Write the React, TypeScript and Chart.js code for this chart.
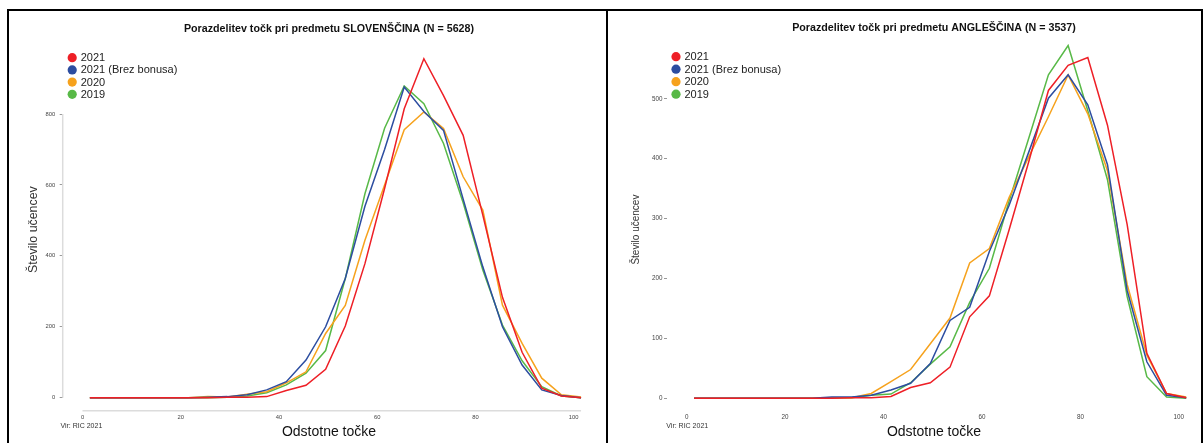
import React, { useEffect, useRef } from 'react';
import { Chart, registerables } from 'chart.js';

Chart.register(...registerables);

const FONT = "'Liberation Sans', Arial, Helvetica, sans-serif";

// ---- shared ----
const X_BINS = [1.5, 5.5, 9.5, 13.5, 17.5, 21.5, 25.5, 29.5, 33.5, 37.5, 41.5, 45.5, 49.5, 53.5, 57.5, 61.5, 65.5, 69.5, 73.5, 77.5, 81.5, 85.5, 89.5, 93.5, 97.5, 101.5];
const X_TICKS = [0, 20, 40, 60, 80, 100];
const SERIES_LABELS = ['2021', '2021 (Brez bonusa)', '2020', '2019'];
const SERIES_COLORS = ['#ee1f26', '#2c4da0', '#f6a21d', '#58b947'];
const X_TITLE = 'Odstotne točke';
const Y_TITLE = 'Število učencev';
const SOURCE = 'Vir: RIC 2021';

// ---- SLOVENŠČINA ----
const SLO_TITLE = 'Porazdelitev točk pri predmetu SLOVENŠČINA (N = 5628)';
const SLO_2021 = [0, 0, 0, 0, 0, 0, 0, 1, 1, 3, 20, 35, 80, 202, 378, 590, 815, 956, 852, 740, 515, 283, 128, 27, 5, 0];
const SLO_2021_NB = [0, 0, 0, 0, 0, 0, 1, 3, 8, 22, 45, 106, 200, 336, 540, 700, 876, 807, 754, 560, 369, 200, 92, 22, 6, 0];
const SLO_2020 = [0, 0, 0, 0, 0, 0, 3, 2, 10, 17, 42, 73, 181, 260, 444, 600, 756, 806, 759, 623, 529, 261, 153, 55, 8, 2];
const SLO_2019 = [0, 0, 0, 0, 0, 0, 0, 1, 5, 14, 36, 69, 133, 336, 575, 760, 879, 829, 717, 550, 360, 205, 104, 31, 5, 0];
const SLO_Y_TICKS = [0, 200, 400, 600, 800];

// ---- ANGLEŠČINA ----
const ANG_TITLE = 'Porazdelitev točk pri predmetu ANGLEŠČINA (N = 3537)';
const ANG_2021 = [0, 0, 0, 0, 0, 0, 0, 0, 1, 1, 3, 18, 26, 52, 136, 171, 281, 395, 514, 556, 569, 456, 290, 75, 8, 1];
const ANG_2021_NB = [0, 0, 0, 0, 0, 0, 0, 2, 2, 5, 14, 25, 58, 130, 152, 245, 322, 411, 501, 540, 490, 390, 180, 61, 5, 1];
const ANG_2020 = [0, 0, 0, 0, 0, 0, 0, 1, 1, 8, 28, 48, 91, 134, 226, 250, 335, 403, 470, 540, 475, 380, 190, 72, 8, 2];
const ANG_2019 = [0, 0, 0, 0, 0, 0, 0, 1, 1, 5, 7, 26, 57, 86, 160, 217, 329, 434, 540, 589, 480, 365, 170, 36, 2, 0];
const ANG_Y_TICKS = [0, 100, 200, 300, 400, 500];

type PanelCfg = {
  title: string;
  series: number[][];
  yTicks: number[];
  yMin: number;
  yMax: number;
  xMin: number;
  xMax: number;
  width: number;
  height: number;
  yAxisWidth: number;
  rightPad: number;
  yTitleSize: number;
  yTitlePad: number;
  yTickPad: number;
  tickSize: number;
  legendX: number;
  legendY: number;
  legendGap: number;
  titleY: number;
  srcX: number;
  axisLines: boolean;
};

const SLO_CFG: PanelCfg = {
  title: SLO_TITLE,
  series: [SLO_2021, SLO_2021_NB, SLO_2020, SLO_2019],
  yTicks: SLO_Y_TICKS,
  yMin: -36.7,
  yMax: 984.8,
  xMin: -4.03,
  xMax: 104.4,
  width: 597,
  height: 432,
  yAxisWidth: 53.7,
  rightPad: 10.7,
  yTitleSize: 12.4,
  yTitlePad: 17.6,
  yTickPad: 4.5,
  tickSize: 5.8,
  legendX: 63.2,
  legendY: 46.7,
  legendGap: 12.2,
  titleY: 18.3,
  srcX: 51.4,
  axisLines: true,
};

const ANG_CFG: PanelCfg = {
  title: ANG_TITLE,
  series: [ANG_2021, ANG_2021_NB, ANG_2020, ANG_2019],
  yTicks: ANG_Y_TICKS,
  yMin: -20.7,
  yMax: 584.0,
  xMin: -4.0,
  xMax: 104.5,
  width: 593,
  height: 432,
  yAxisWidth: 59,
  rightPad: 0,
  yTitleSize: 10,
  yTitlePad: 22,
  yTickPad: 1.5,
  tickSize: 6.3,
  legendX: 68,
  legendY: 45.7,
  legendGap: 12.5,
  titleY: 17.3,
  srcX: 58.3,
  axisLines: false,
};

function makeDecor(cfg: PanelCfg) {
  return {
    id: 'decor',
    beforeDatasetsDraw(chart: any) {
      if (!cfg.axisLines) return;
      const ctx = chart.ctx;
      const xs = chart.scales.x;
      const ys = chart.scales.y;
      const { left, bottom } = chart.chartArea;
      ctx.save();
      ctx.strokeStyle = '#dcdcdc';
      ctx.lineWidth = 1.5;
      ctx.beginPath();
      ctx.moveTo(left, ys.getPixelForValue(cfg.yTicks[cfg.yTicks.length - 1]));
      ctx.lineTo(left, ys.getPixelForValue(cfg.yTicks[0]));
      ctx.stroke();
      ctx.beginPath();
      ctx.moveTo(xs.getPixelForValue(X_TICKS[0]), bottom);
      ctx.lineTo(xs.getPixelForValue(X_BINS[X_BINS.length - 1]), bottom);
      ctx.stroke();
      ctx.restore();
    },
    afterDraw(chart: any) {
      const ctx = chart.ctx;
      const { left, right } = chart.chartArea;
      ctx.save();
      ctx.textBaseline = 'middle';
      // title
      ctx.font = `bold 10.7px ${FONT}`;
      ctx.fillStyle = '#111';
      ctx.textAlign = 'center';
      ctx.fillText(cfg.title, (left + right) / 2, cfg.titleY);
      // legend
      chart.data.datasets.forEach((ds: any, i: number) => {
        const cy = cfg.legendY + i * cfg.legendGap;
        ctx.beginPath();
        ctx.arc(cfg.legendX, cy, 4.6, 0, Math.PI * 2);
        ctx.fillStyle = ds.borderColor;
        ctx.fill();
        ctx.font = `11px ${FONT}`;
        ctx.fillStyle = '#222';
        ctx.textAlign = 'left';
        ctx.fillText(ds.label, cfg.legendX + 8.5, cy + 0.5);
      });
      // source
      ctx.font = `7px ${FONT}`;
      ctx.fillStyle = '#333';
      ctx.textAlign = 'left';
      ctx.fillText(SOURCE, cfg.srcX, 414.7);
      ctx.restore();
    },
  };
}

function Panel({ cfg }: { cfg: PanelCfg }) {
  const ref = useRef<HTMLCanvasElement | null>(null);
  useEffect(() => {
    if (!ref.current) return;
    const chart = new Chart(ref.current, {
      type: 'line',
      data: {
        datasets: cfg.series.map((vals, i) => ({
          label: SERIES_LABELS[i],
          data: X_BINS.map((x, j) => ({ x, y: vals[j] })),
          borderColor: SERIES_COLORS[i],
          backgroundColor: SERIES_COLORS[i],
          borderWidth: 1.5,
          pointRadius: 0,
          tension: 0,
          fill: false,
          clip: false,
        })),
      },
      options: {
        animation: false,
        responsive: false,
        events: [],
        layout: { padding: { top: 37.5, left: 0, right: cfg.rightPad, bottom: 0 } },
        plugins: {
          legend: { display: false },
          title: { display: false },
          tooltip: { enabled: false },
        },
        scales: {
          x: {
            type: 'linear',
            min: cfg.xMin,
            max: cfg.xMax,
            afterBuildTicks: (s: any) => {
              s.ticks = X_TICKS.map((v) => ({ value: v }));
            },
            afterFit: (s: any) => {
              s.height = 32.3;
            },
            grid: { display: false, drawTicks: false },
            border: { display: false },
            ticks: {
              font: { size: cfg.tickSize, family: FONT },
              color: '#444',
              padding: 3,
              maxRotation: 0,
              autoSkip: false,
            },
            title: {
              display: true,
              text: X_TITLE,
              font: { size: 14, family: FONT },
              color: '#111',
              padding: { top: 0, bottom: 2.9 },
            },
          },
          y: {
            type: 'linear',
            min: cfg.yMin,
            max: cfg.yMax,
            afterBuildTicks: (s: any) => {
              s.ticks = cfg.yTicks.map((v) => ({ value: v }));
            },
            afterFit: (s: any) => {
              s.width = cfg.yAxisWidth;
            },
            grid: {
              display: true,
              drawOnChartArea: false,
              drawTicks: true,
              tickLength: 3,
              color: '#999',
              lineWidth: 1,
            },
            border: { display: false },
            ticks: {
              font: { size: cfg.tickSize, family: FONT },
              color: '#444',
              padding: cfg.yTickPad,
              autoSkip: false,
            },
            title: {
              display: true,
              text: Y_TITLE,
              font: { size: cfg.yTitleSize, family: FONT },
              color: '#333',
              padding: { top: cfg.yTitlePad, bottom: 0 },
            },
          },
        },
      } as any,
      plugins: [makeDecor(cfg)],
    });
    return () => chart.destroy();
  }, [cfg]);
  return (
    <canvas
      ref={ref}
      width={cfg.width}
      height={cfg.height}
      style={{ position: 'absolute', left: 0, top: 0, display: 'block', width: cfg.width, height: cfg.height }}
    />
  );
}

export default function App() {
  useEffect(() => {
    document.body.style.margin = '0';
  }, []);
  return (
    <div
      style={{
        position: 'fixed',
        left: 0,
        top: 0,
        width: 1203,
        height: 443,
        overflow: 'hidden',
        background: '#fff',
      }}
    >
      <div
        style={{
          position: 'absolute',
          left: 7,
          top: 9,
          width: 597,
          height: 440,
          border: '2px solid #000',
          overflow: 'hidden',
        }}
      >
        <Panel cfg={SLO_CFG} />
      </div>
      <div
        style={{
          position: 'absolute',
          left: 606,
          top: 9,
          width: 593,
          height: 440,
          border: '2px solid #000',
          overflow: 'hidden',
        }}
      >
        <Panel cfg={ANG_CFG} />
      </div>
    </div>
  );
}
